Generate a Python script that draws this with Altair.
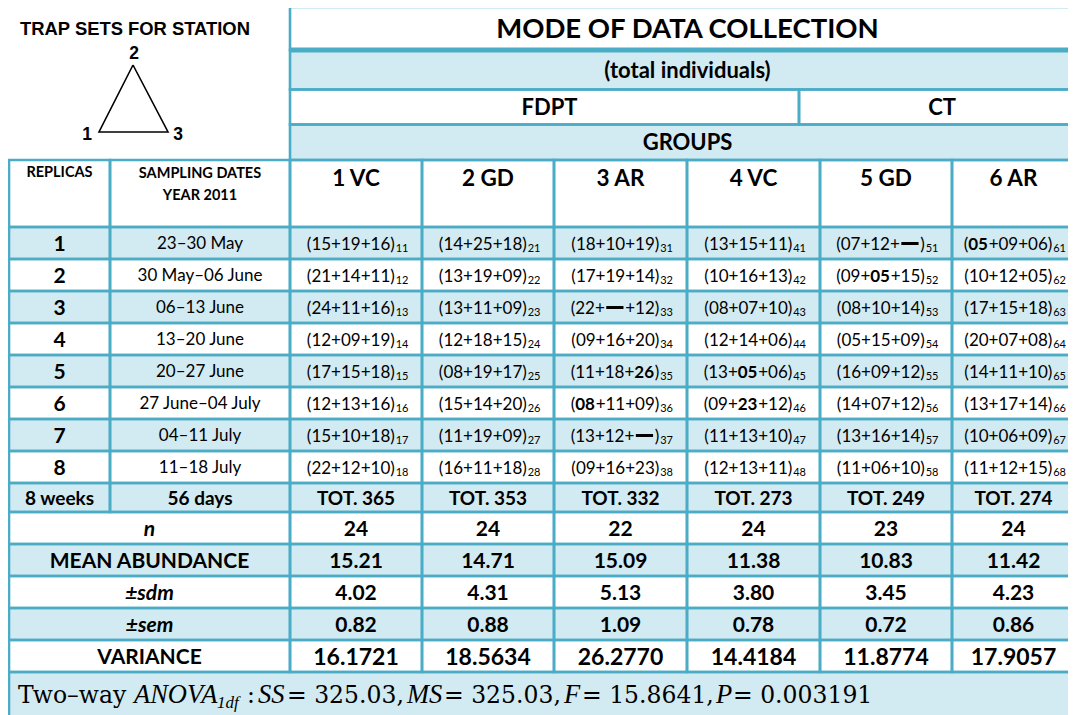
import altair as alt
import pandas as pd

# ---------------- data ----------------
groups = ["1 VC", "2 GD", "3 AR", "4 VC", "5 GD", "6 AR"]
replicas = ["1", "2", "3", "4", "5", "6", "7", "8"]
dates = ["23–30 May", "30 May–06 June", "06–13 June", "13–20 June",
         "20–27 June", "27 June–04 July", "04–11 July", "11–18 July"]
# trap counts (trap1, trap2, trap3) per replica; None = missing (dash)
counts_1VC = [("15", "19", "16"), ("21", "14", "11"), ("24", "11", "16"), ("12", "09", "19"),
              ("17", "15", "18"), ("12", "13", "16"), ("15", "10", "18"), ("22", "12", "10")]
counts_2GD = [("14", "25", "18"), ("13", "19", "09"), ("13", "11", "09"), ("12", "18", "15"),
              ("08", "19", "17"), ("15", "14", "20"), ("11", "19", "09"), ("16", "11", "18")]
counts_3AR = [("18", "10", "19"), ("17", "19", "14"), ("22", None, "12"), ("09", "16", "20"),
              ("11", "18", "26"), ("08", "11", "09"), ("13", "12", None), ("09", "16", "23")]
counts_4VC = [("13", "15", "11"), ("10", "16", "13"), ("08", "07", "10"), ("12", "14", "06"),
              ("13", "05", "06"), ("09", "23", "12"), ("11", "13", "10"), ("12", "13", "11")]
counts_5GD = [("07", "12", None), ("09", "05", "15"), ("08", "10", "14"), ("05", "15", "09"),
              ("16", "09", "12"), ("14", "07", "12"), ("13", "16", "14"), ("11", "06", "10")]
counts_6AR = [("05", "09", "06"), ("10", "12", "05"), ("17", "15", "18"), ("20", "07", "08"),
              ("14", "11", "10"), ("13", "17", "14"), ("10", "06", "09"), ("11", "12", "15")]
all_counts = [counts_1VC, counts_2GD, counts_3AR, counts_4VC, counts_5GD, counts_6AR]
# highlighted (bold) values: (group index, replica index, trap index)
bold_marks = [(2, 4, 2), (2, 5, 0), (3, 4, 1), (3, 5, 1), (4, 1, 1), (5, 0, 0)]
totals = ["TOT. 365", "TOT. 353", "TOT. 332", "TOT. 273", "TOT. 249", "TOT. 274"]
n_vals = ["24", "24", "22", "24", "23", "24"]
mean_vals = ["15.21", "14.71", "15.09", "11.38", "10.83", "11.42"]
sdm_vals = ["4.02", "4.31", "5.13", "3.80", "3.45", "4.23"]
sem_vals = ["0.82", "0.88", "1.09", "0.78", "0.72", "0.86"]
var_vals = ["16.1721", "18.5634", "26.2770", "14.4184", "11.8774", "17.9057"]
anova_ss, anova_ms, anova_f, anova_p = "325.03", "325.03", "15.8641", "0.003191"

# ---------------- layout ----------------
W, H = 1060, 707
COLX = [9, 110, 290, 422, 554, 687, 820, 952, 1085]
TEXT_SHIFT = [0, 0, 0, 0, 0, -5]      # keep the last column's text inside the window
SPLIT_X = 799
HDR_Y = [7, 50, 89.5, 124.5, 160, 227]
ROW_H = 32
ROW_Y = [227 + ROW_H * k for k in range(9)]          # data rows
TOT_Y = [483, 512]
STAT_Y = [512, 544, 576, 608, 640, 672]
ANOVA_Y = [672, 722]
BLUE = "#D2EAF1"
LINE = "#4BACC6"
WHITE = "#FFFFFF"
SANS = "Lato"

xs = alt.Scale(domain=[8, 8 + W], range=[0, W])
ys = alt.Scale(domain=[8, 8 + H], range=[0, H])


def X(f):
    return alt.X(f"{f}:Q", scale=xs, axis=None)


def Y(f):
    return alt.Y(f"{f}:Q", scale=ys, axis=None)


def gcenter(i):
    return (COLX[2 + i] + COLX[3 + i]) / 2


def tcenter(i):
    return gcenter(i) + TEXT_SHIFT[i]


# ---------- cells ----------
rects = []


def add(x, x2, y, y2, fill):
    rects.append(dict(x=x, x2=x2, y=y, y2=y2, fill=fill))


add(COLX[2], COLX[-1], HDR_Y[0], HDR_Y[1], WHITE)
add(COLX[2], COLX[-1], HDR_Y[1], HDR_Y[2], BLUE)
add(COLX[2], SPLIT_X, HDR_Y[2], HDR_Y[3], WHITE)
add(SPLIT_X, COLX[-1], HDR_Y[2], HDR_Y[3], WHITE)
add(COLX[2], COLX[-1], HDR_Y[3], HDR_Y[4], BLUE)
for c in range(8):
    add(COLX[c], COLX[c + 1], HDR_Y[4], HDR_Y[5], WHITE)
for r in range(8):
    for c in range(8):
        add(COLX[c], COLX[c + 1], ROW_Y[r], ROW_Y[r + 1], BLUE if r % 2 == 0 else WHITE)
for c in range(8):
    add(COLX[c], COLX[c + 1], TOT_Y[0], TOT_Y[1], BLUE)
for k in range(5):
    f = WHITE if k % 2 == 0 else BLUE
    add(COLX[0], COLX[2], STAT_Y[k], STAT_Y[k + 1], f)
    for i in range(6):
        add(COLX[2 + i], COLX[3 + i], STAT_Y[k], STAT_Y[k + 1], f)
add(COLX[0], COLX[-1], ANOVA_Y[0], ANOVA_Y[1], BLUE)
rect_df = pd.DataFrame(rects)

fills = alt.Chart(rect_df).mark_rect(strokeWidth=0).encode(
    x=X("x"), x2="x2", y=Y("y"), y2="y2", fill=alt.Fill("fill:N", scale=None))
borders = alt.Chart(rect_df).mark_rect(fillOpacity=0, stroke=LINE, strokeWidth=2.6).encode(
    x=X("x"), x2="x2", y=Y("y"), y2="y2")
thick = alt.Chart(pd.DataFrame([dict(x=COLX[2], x2=COLX[-1], y=HDR_Y[1])])).mark_rule(
    stroke=LINE, strokeWidth=5).encode(x=X("x"), x2="x2", y=Y("y"))

# ---------- triangle ----------
tri_df = pd.DataFrame(dict(x=[133, 99, 168, 133], y=[65, 132, 132, 65], o=[0, 1, 2, 3]))
tri = alt.Chart(tri_df).mark_line(color="black", strokeWidth=1.6, strokeJoin="miter").encode(
    x=X("x"), y=Y("y"), order="o:Q")

# ---------- texts ----------
layers = []


def text_layer(rows, size, weight="normal", style="normal", font=SANS, align="center"):
    df = pd.DataFrame(rows, columns=["x", "y", "t"])
    return alt.Chart(df).mark_text(font=font, fontSize=size, fontWeight=weight, fontStyle=style,
                                   align=align, baseline="alphabetic", color="black").encode(
        x=X("x"), y=Y("y"), text="t:N")


# top-left
layers.append(text_layer([(135, 35, "TRAP SETS FOR STATION")], 18.4, "bold", font="Liberation Sans"))
layers.append(text_layer([(134, 59, "2"), (87, 140, "1"), (178, 140, "3")], 17.5, "bold",
                         font="Liberation Sans"))

hx = (COLX[2] + COLX[-1]) / 2
layers.append(text_layer([(hx, 38, "MODE OF DATA COLLECTION")], 27.5, "bold"))
layers.append(text_layer([(hx, 77.5, "(total individuals)")], 22, "bold"))
layers.append(text_layer([((COLX[2] + SPLIT_X) / 2 + 5, 115, "FDPT"),
                          ((SPLIT_X + COLX[-1]) / 2, 115, "CT"),
                          (hx, 150, "GROUPS")], 22, "bold"))
layers.append(text_layer([(tcenter(i), 186, g) for i, g in enumerate(groups)], 22.5, "bold"))
c0 = (COLX[0] + COLX[1]) / 2
c1 = (COLX[1] + COLX[2]) / 2
layers.append(text_layer([(c0, 177, "REPLICAS"), (c1, 178, "SAMPLING DATES"),
                          (c1, 200, "YEAR 2011")], 14.5, "bold"))

# data rows
F = 17.0
SUBF = 11
DIG = 0.58 * F
PAREN = 0.31 * F
SUBW = 2 * 0.58 * SUBF
reg_rows, bold_rows, dash_rows, sub_rows = [], [], [], []
rep_rows, date_rows = [], []
for r in range(8):
    cy = (ROW_Y[r] + ROW_Y[r + 1]) / 2
    rep_rows.append((c0, cy + 7.5, replicas[r]))
    date_rows.append((c1, cy + 6, dates[r]))
    for g in range(6):
        vals = all_counts[g][r]
        bpos = [p for (gg, rr, p) in bold_marks if gg == g and rr == r]
        toks = [("(", "reg", PAREN)]
        for i, v in enumerate(vals):
            if i > 0:
                toks.append(("+", "reg", DIG))
            if v is None:
                toks.append(("", "dash", 2 * DIG))
            else:
                toks.append((v, "bold" if i in bpos else "reg", 2 * DIG))
        toks.append((")", "reg", PAREN))
        w = sum(t[2] for t in toks)
        anchor = tcenter(g) - (w + 1 + SUBW) / 2 + w + 1
        segs = []
        for t, kind, tw in toks:
            if segs and segs[-1][1] == kind and kind != "dash":
                segs[-1][0] += t
                segs[-1][2] += tw
            else:
                segs.append([t, kind, tw])
        end = anchor
        for t, kind, tw in reversed(segs):
            if kind == "reg":
                reg_rows.append((end, cy + 6.5, t))
            elif kind == "bold":
                bold_rows.append((end, cy + 6.5, t))
            else:
                dash_rows.append(dict(x=end - tw + 1.5, x2=end - 1.0, y=cy + 0.5))
            end -= tw
        sub_rows.append((anchor + 0.8, cy + 9, f"{g + 1}{r + 1}"))

layers.append(text_layer(rep_rows, 21, "bold"))
layers.append(text_layer(date_rows, 17))
layers.append(text_layer(reg_rows, F, align="right"))
layers.append(text_layer(bold_rows, F, "bold", align="right"))
layers.append(text_layer(sub_rows, SUBF, align="left"))
dash = alt.Chart(pd.DataFrame(dash_rows)).mark_rule(stroke="black", strokeWidth=3).encode(
    x=X("x"), x2="x2", y=Y("y"))

# totals row
ty = (TOT_Y[0] + TOT_Y[1]) / 2 + 7
layers.append(text_layer([(c0, ty, "8 weeks"), (c1, ty, "56 days")] +
                         [(tcenter(i), ty, t) for i, t in enumerate(totals)], 19, "bold"))

# stats rows
sc = (COLX[0] + COLX[2]) / 2
stat_defs = [("n", n_vals, "italic", 21), ("MEAN ABUNDANCE", mean_vals, "normal", 21),
             ("±sdm", sdm_vals, "italic", 21), ("±sem", sem_vals, "italic", 21),
             ("VARIANCE", var_vals, "normal", 23)]
for k, (lab, vals, sty, vs) in enumerate(stat_defs):
    cy = (STAT_Y[k] + STAT_Y[k + 1]) / 2
    layers.append(text_layer([(sc, cy + 7.5, lab)], 21, "bold", style=sty))
    layers.append(text_layer([(tcenter(i), cy + 0.36 * vs + 0.5, v) for i, v in enumerate(vals)],
                             vs, "bold"))

# ANOVA row
SERIF = "DejaVu Serif"
ISERIF = "Liberation Serif"
ab = 703
layers.append(text_layer([(18, ab, "Two–way"), (247, ab, ":"), (287, ab, f"= {anova_ss},"),
                          (444, ab, f"= {anova_ms},"), (582, ab, f"= {anova_f},"),
                          (733, ab, f"= {anova_p}")], 23.5, font=SERIF, align="left"))
layers.append(text_layer([(134, ab, "ANOVA"), (258, ab, "SS"), (407, ab, "MS"),
                          (564, ab, "F"), (716, ab, "P")], 26.5, style="italic", font=ISERIF,
                         align="left"))
layers.append(text_layer([(217, ab + 5, "1df")], 17, style="italic", font=ISERIF, align="left"))

chart = alt.layer(fills, borders, thick, tri, dash, *layers).properties(
    width=W, height=H, padding=0, autosize=alt.AutoSizeParams(type="none"),
    background="white"
).configure_view(stroke=None)

chart.save("out.html", embed_options={"renderer": "svg", "actions": False})
